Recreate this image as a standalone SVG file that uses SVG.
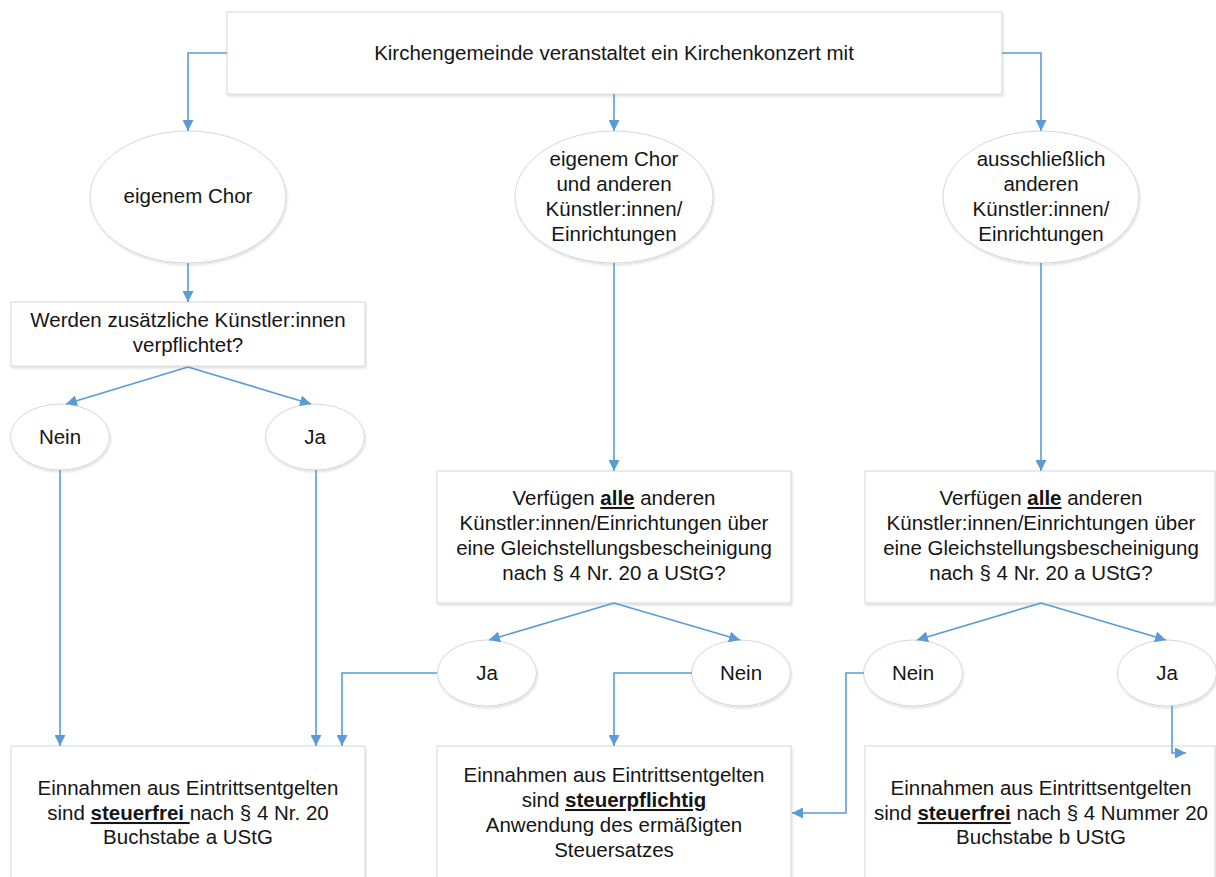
<svg xmlns="http://www.w3.org/2000/svg" width="1216" height="877" viewBox="0 0 1216 877">
<style>
.box{fill:#fff;stroke:#d6d6d6;stroke-width:1;filter:url(#sh)}
.ell{fill:#fff;stroke:#d6d6d6;stroke-width:1;filter:url(#sh)}
text{font-family:"Liberation Sans",Arial,sans-serif;font-size:20.5px;fill:#151515;text-anchor:middle}
.bu{font-weight:bold;text-decoration:underline}
.con path{fill:none;stroke:#5b9bd5;stroke-width:1.6;marker-end:url(#ah)}
</style>
<defs>
<filter id="sh" x="-5%" y="-5%" width="110%" height="115%">
<feDropShadow dx="1" dy="2" stdDeviation="1.2" flood-color="#000" flood-opacity="0.12"/>
</filter>
<marker id="ah" markerUnits="userSpaceOnUse" markerWidth="11" markerHeight="11" viewBox="0 0 10 10" refX="10" refY="5" orient="auto">
<path d="M0,0 L10,5 L0,10 z" fill="#5b9bd5"/>
</marker>
</defs>
<rect width="1216" height="877" fill="#fff"/>

<g id="start">
<rect class="box" x="227" y="12" width="775" height="82"/>
<text x="614" y="60">Kirchengemeinde veranstaltet ein Kirchenkonzert mit</text>
</g>

<g id="chor">
<ellipse class="ell" cx="188" cy="197" rx="98" ry="66"/>
<text x="188" y="203">eigenem Chor</text>
</g>

<g id="chor-andere">
<ellipse class="ell" cx="614" cy="197" rx="99" ry="66"/>
<text x="614" y="166">eigenem Chor</text>
<text x="614" y="191">und anderen</text>
<text x="614" y="216">Künstler:innen/</text>
<text x="614" y="241">Einrichtungen</text>
</g>

<g id="nur-andere">
<ellipse class="ell" cx="1041" cy="197" rx="98" ry="66"/>
<text x="1041" y="166">ausschließlich</text>
<text x="1041" y="191">anderen</text>
<text x="1041" y="216">Künstler:innen/</text>
<text x="1041" y="241">Einrichtungen</text>
</g>

<g id="frage-zusaetzlich">
<rect class="box" x="11" y="302" width="354" height="64"/>
<text x="188" y="327">Werden zusätzliche Künstler:innen</text>
<text x="188" y="352">verpflichtet?</text>
</g>

<g id="nein-1">
<ellipse class="ell" cx="60" cy="437" rx="49.5" ry="33"/>
<text x="60" y="444">Nein</text>
</g>

<g id="ja-1">
<ellipse class="ell" cx="315" cy="437" rx="49.5" ry="33"/>
<text x="315" y="444">Ja</text>
</g>

<g id="frage-mitte">
<rect class="box" x="437" y="471" width="354" height="132"/>
<text x="614" y="505">Verfügen <tspan class="bu">alle</tspan> anderen</text>
<text x="614" y="530">Künstler:innen/Einrichtungen über</text>
<text x="614" y="555">eine Gleichstellungsbescheinigung</text>
<text x="614" y="580">nach § 4 Nr. 20 a UStG?</text>
</g>

<g id="frage-rechts">
<rect class="box" x="865" y="471" width="350" height="132"/>
<text x="1041" y="505">Verfügen <tspan class="bu">alle</tspan> anderen</text>
<text x="1041" y="530">Künstler:innen/Einrichtungen über</text>
<text x="1041" y="555">eine Gleichstellungsbescheinigung</text>
<text x="1041" y="580">nach § 4 Nr. 20 a UStG?</text>
</g>

<g id="ja-2">
<ellipse class="ell" cx="487" cy="673" rx="49.5" ry="33"/>
<text x="487" y="680">Ja</text>
</g>

<g id="nein-2">
<ellipse class="ell" cx="741" cy="673" rx="49.5" ry="33"/>
<text x="741" y="680">Nein</text>
</g>

<g id="nein-3">
<ellipse class="ell" cx="913" cy="673" rx="49.5" ry="33"/>
<text x="913" y="680">Nein</text>
</g>

<g id="ja-3">
<ellipse class="ell" cx="1167" cy="673" rx="49.5" ry="33"/>
<text x="1167" y="680">Ja</text>
</g>

<g id="ergebnis-a">
<rect class="box" x="11" y="746" width="354" height="140"/>
<text x="188" y="795">Einnahmen aus Eintrittsentgelten</text>
<text x="188" y="820">sind <tspan class="bu">steuerfrei </tspan>nach § 4 Nr. 20</text>
<text x="188" y="844">Buchstabe a UStG</text>
</g>

<g id="ergebnis-pflichtig">
<rect class="box" x="437" y="746" width="354" height="140"/>
<text x="614" y="782">Einnahmen aus Eintrittsentgelten</text>
<text x="614" y="807">sind <tspan class="bu">steuerpflichtig</tspan></text>
<text x="614" y="832">Anwendung des ermäßigten</text>
<text x="614" y="857">Steuersatzes</text>
</g>

<g id="ergebnis-b">
<rect class="box" x="865" y="746" width="350" height="140"/>
<text x="1041" y="795">Einnahmen aus Eintrittsentgelten</text>
<text x="1041" y="820">sind <tspan class="bu">steuerfrei</tspan> nach § 4 Nummer 20</text>
<text x="1041" y="844">Buchstabe b UStG</text>
</g>

<g class="con">
<path d="M227,53 H188 V131"/>
<path d="M614,94 V131"/>
<path d="M1002,53 H1041 V131"/>
<path d="M188,263 V302"/>
<path d="M614,263 V471"/>
<path d="M1041,263 V471"/>
<path d="M188,367 L66,404"/>
<path d="M188,367 L311,404"/>
<path d="M60,470 V746"/>
<path d="M316,470 V746"/>
<path d="M614,603 L489,640"/>
<path d="M614,603 L740,640"/>
<path d="M1041,603 L917,640"/>
<path d="M1041,603 L1166,640"/>
<path d="M437,673 H342 V746"/>
<path d="M692,673 H614 V746"/>
<path d="M864,673 H846 V813 H792"/>
<path d="M1172,706 V753 H1186"/>
</g>
</svg>
